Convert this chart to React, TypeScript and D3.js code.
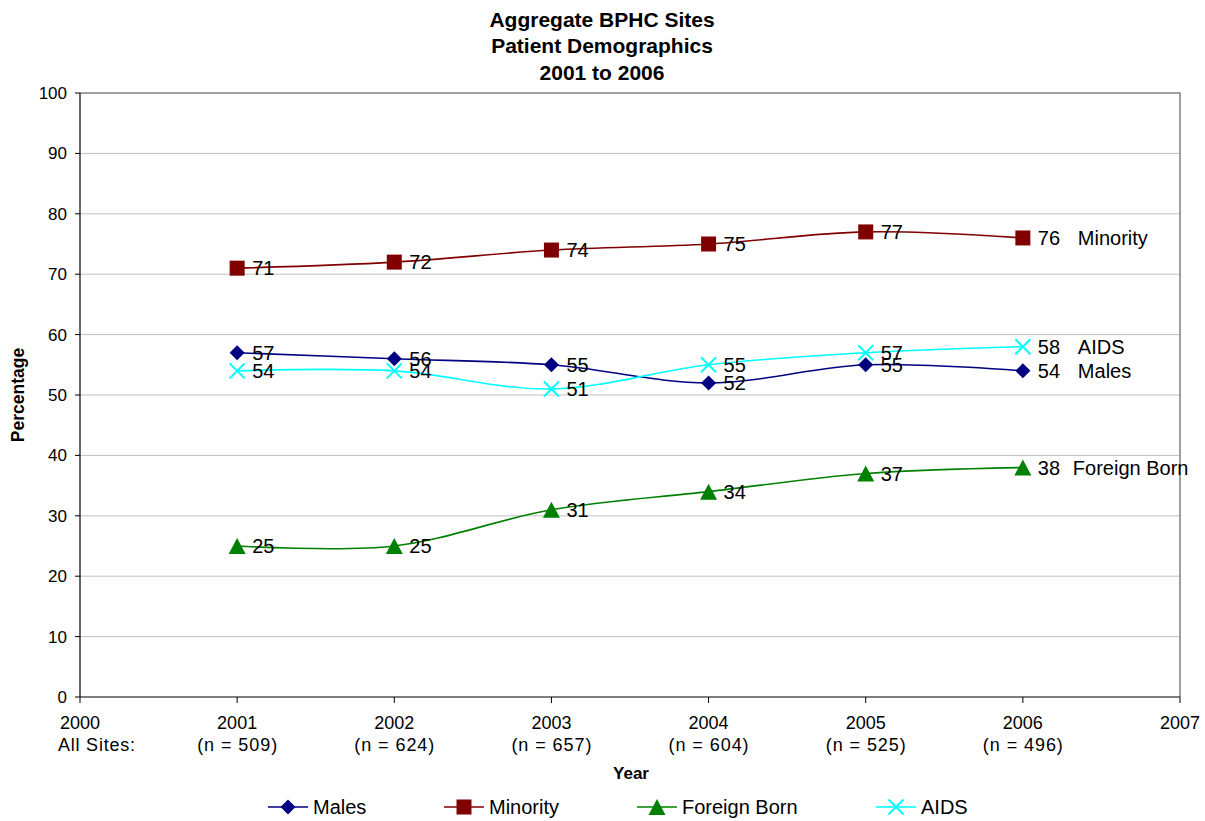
import React from "react";
import * as d3 from "d3";

const years = [2001, 2002, 2003, 2004, 2005, 2006];
const sampleSizes = ["(n = 509)", "(n = 624)", "(n = 657)", "(n = 604)", "(n = 525)", "(n = 496)"];
const axisYears = [2000, 2001, 2002, 2003, 2004, 2005, 2006, 2007];
const yTicks = [0, 10, 20, 30, 40, 50, 60, 70, 80, 90, 100];

const males = [57, 56, 55, 52, 55, 54];
const minority = [71, 72, 74, 75, 77, 76];
const foreignBorn = [25, 25, 31, 34, 37, 38];
const aids = [54, 54, 51, 55, 57, 58];

type Series = { name: string; values: number[]; color: string; marker: string; endNameDx: number };

const series: Series[] = [
  { name: "Males", values: males, color: "#000080", marker: "diamond", endNameDx: 55 },
  { name: "Minority", values: minority, color: "#800000", marker: "square", endNameDx: 55 },
  { name: "Foreign Born", values: foreignBorn, color: "#008000", marker: "triangle", endNameDx: 50 },
  { name: "AIDS", values: aids, color: "#00FFFF", marker: "x", endNameDx: 55 },
];

const FONT = "'Liberation Sans', Arial, sans-serif";

function Marker({ type, x, y, color }: { type: string; x: number; y: number; color: string }) {
  if (type === "diamond") {
    const r = 7.5;
    return <path d={`M${x},${y - r}L${x + r},${y}L${x},${y + r}L${x - r},${y}Z`} fill={color} />;
  }
  if (type === "square") {
    const r = 7.5;
    return <rect x={x - r} y={y - r} width={2 * r} height={2 * r} fill={color} />;
  }
  if (type === "triangle") {
    return <path d={`M${x},${y - 8}L${x + 8.5},${y + 8}L${x - 8.5},${y + 8}Z`} fill={color} />;
  }
  const r = 7.5;
  return (
    <path
      d={`M${x - r},${y - r}L${x + r},${y + r}M${x - r},${y + r}L${x + r},${y - r}`}
      stroke={color}
      strokeWidth={2}
      fill="none"
    />
  );
}

export default function App() {
  const width = 1205;
  const height = 821;
  const left = 80;
  const right = 1180;
  const top = 93;
  const bottom = 697;

  const x = d3.scaleLinear().domain([2000, 2007]).range([left, right]);
  const y = d3.scaleLinear().domain([0, 100]).range([bottom, top]);

  const line = d3
    .line<number>()
    .x((_, i) => x(years[i]))
    .y((d) => y(d))
    .curve(d3.curveCatmullRom.alpha(0));

  const legendItems = [
    { s: series[0], lx: 268 },
    { s: series[1], lx: 444 },
    { s: series[2], lx: 637 },
    { s: series[3], lx: 876 },
  ];

  return (
    <svg
      width={width}
      height={height}
      style={{ position: "absolute", left: 0, top: 0, background: "#fff" }}
      fontFamily={FONT}
    >
      <rect x={0} y={0} width={width} height={height} fill="#fff" />
      {/* Title */}
      <g fontWeight="bold" fontSize={21} textAnchor="middle" fill="#000">
        <text x={602} y={27}>Aggregate BPHC Sites</text>
        <text x={602} y={52.5}>Patient Demographics</text>
        <text x={602} y={80}>2001 to 2006</text>
      </g>

      {/* Gridlines */}
      {yTicks
        .filter((t) => t > 0 && t < 100)
        .map((t) => (
          <line key={t} x1={left} x2={right} y1={y(t)} y2={y(t)} stroke="#c0c0c0" strokeWidth={1} />
        ))}
      {/* Plot border */}
      <path d={`M${left},${top}H${right}V${bottom}`} fill="none" stroke="#808080" strokeWidth={1.5} />
      <line x1={left} x2={left} y1={top} y2={bottom} stroke="#000" strokeWidth={1.2} />
      <line x1={left} x2={right} y1={bottom} y2={bottom} stroke="#000" strokeWidth={1.2} />

      {/* Y axis ticks */}
      {yTicks.map((t) => (
        <g key={t}>
          <line x1={left - 5} x2={left} y1={y(t)} y2={y(t)} stroke="#000" />
          <text x={left - 13} y={y(t)} dy="0.35em" textAnchor="end" fontSize={17} fill="#000">
            {t}
          </text>
        </g>
      ))}

      {/* X axis ticks */}
      {axisYears.map((yr) => (
        <g key={yr}>
          <line x1={x(yr)} x2={x(yr)} y1={bottom} y2={bottom + 6} stroke="#000" />
          <text x={x(yr)} y={729} textAnchor="middle" fontSize={18} fill="#000">
            {yr}
          </text>
        </g>
      ))}
      <text x={58} y={751} fontSize={18} fill="#000" textLength={77} lengthAdjust="spacing">
        All Sites:
      </text>
      {years.map((yr, i) => (
        <text
          key={yr}
          x={x(yr) - 40}
          y={751}
          fontSize={18}
          fill="#000"
          textLength={80}
          lengthAdjust="spacing"
        >
          {sampleSizes[i]}
        </text>
      ))}

      {/* Axis titles */}
      <text x={631} y={779} textAnchor="middle" fontSize={17} fontWeight="bold" fill="#000">Year</text>
      <text
        transform={`translate(24,${(top + bottom) / 2}) rotate(-90)`}
        textAnchor="middle"
        fontSize={17.5}
        fontWeight="bold"
        fill="#000"
      >
        Percentage
      </text>

      {/* Series lines */}
      {series.map((s) => (
        <path key={s.name} d={line(s.values) || ""} fill="none" stroke={s.color} strokeWidth={1.6} />
      ))}

      {/* Markers and value labels */}
      {series.map((s) => (
        <g key={s.name + "-pts"}>
          {s.values.map((v, i) => (
            <g key={i}>
              <Marker type={s.marker} x={x(years[i])} y={y(v)} color={s.color} />
              <text x={x(years[i]) + 15} y={y(v)} dy="0.36em" fontSize={20} fill="#000">
                {v}
              </text>
            </g>
          ))}
          <text
            x={x(years[years.length - 1]) + s.endNameDx}
            y={y(s.values[s.values.length - 1])}
            dy="0.36em"
            fontSize={20}
            fill="#000"
          >
            {s.name}
          </text>
        </g>
      ))}

      {/* Legend */}
      {legendItems.map(({ s, lx }) => (
        <g key={s.name + "-legend"}>
          <line x1={lx} x2={lx + 40} y1={807} y2={807} stroke={s.color} strokeWidth={1.6} />
          <Marker type={s.marker} x={lx + 20} y={807} color={s.color} />
          <text x={lx + 45} y={807} dy="0.36em" fontSize={20} fill="#000">
            {s.name}
          </text>
        </g>
      ))}
    </svg>
  );
}
